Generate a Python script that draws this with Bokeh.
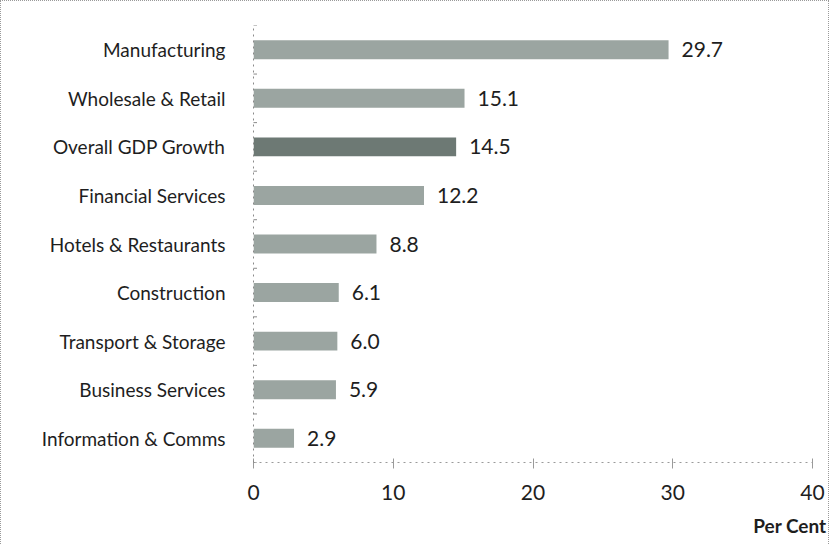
from bokeh.plotting import figure
from bokeh.models import FactorRange, Range1d, ColumnDataSource, LabelSet, FixedTicker, Title
from bokeh.core.properties import value
from bokeh.embed import file_html
from bokeh.resources import INLINE

categories = ["Manufacturing", "Wholesale & Retail", "Overall GDP Growth", "Financial Services",
              "Hotels & Restaurants", "Construction", "Transport & Storage", "Business Services",
              "Information & Comms"]
values = [29.7, 15.1, 14.5, 12.2, 8.8, 6.1, 6.0, 5.9, 2.9]
highlight = "Overall GDP Growth"
x_ticks = [0, 10, 20, 30, 40]
axis_title = "Per Cent"

FONT = "Lato"
bar_col = "#9ba5a1"
hi_col = "#6d7974"

cats_bottom_up = list(reversed(categories))
colors = [hi_col if c == highlight else bar_col for c in categories]
labels = [f"{v:.1f}" for v in values]

src = ColumnDataSource(dict(cat=categories, val=values, col=colors, lab=labels))

p = figure(output_backend="svg", toolbar_location=None,
           y_range=FactorRange(*cats_bottom_up, range_padding=0),
           x_range=Range1d(x_ticks[0], x_ticks[-1]),
           frame_width=559, frame_height=437,
           min_border_left=252, min_border_right=16, min_border_top=24, min_border_bottom=74)
p.outline_line_color = None
p.grid.visible = False
p.styles = {"border": "1px dotted #9a9a9a"}

p.hbar(y="cat", right="val", left=0, height=0.39, fill_color="col", line_color=None, source=src)

# boundary ticks on the category axis
bounds_y = [(c, -0.5) for c in cats_bottom_up] + [(cats_bottom_up[-1], 0.5)]
p.scatter(x=[x_ticks[0]] * len(bounds_y), y=bounds_y, marker="dash", size=7,
          line_color="#8a8a8a", line_width=1)

p.add_layout(LabelSet(x="val", y="cat", text="lab", source=src, x_offset=13,
                      text_font=value(FONT), text_font_size="21px", text_baseline="middle",
                      text_color="#1e1e1e"))

xa = p.xaxis[0]
xa.ticker = FixedTicker(ticks=x_ticks)
xa.axis_line_color = "#9a9a9a"
xa.axis_line_dash = "dotted"
xa.major_tick_line_color = "#9a9a9a"
xa.major_tick_in = 4
xa.major_tick_out = 6
xa.minor_tick_line_color = None
xa.major_label_standoff = 16
xa.major_label_text_font = FONT
xa.major_label_text_font_size = "21px"
xa.major_label_text_color = "#1e1e1e"

ya = p.yaxis[0]
ya.axis_line_color = "#8a8a8a"
ya.axis_line_dash = "dotted"
ya.major_tick_line_color = None
ya.major_label_standoff = 22
ya.major_label_text_font = FONT
ya.major_label_text_font_size = "19px"
ya.major_label_text_color = "#1e1e1e"

t = Title(text=axis_title, align="right", text_font=FONT, text_font_size="19px",
          text_font_style="bold", text_color="#1e1e1e", offset=-14)
if "standoff" in Title.properties():
    t.standoff = 18
p.add_layout(t, "below")

open("out.html", "w").write(file_html(p, INLINE))
